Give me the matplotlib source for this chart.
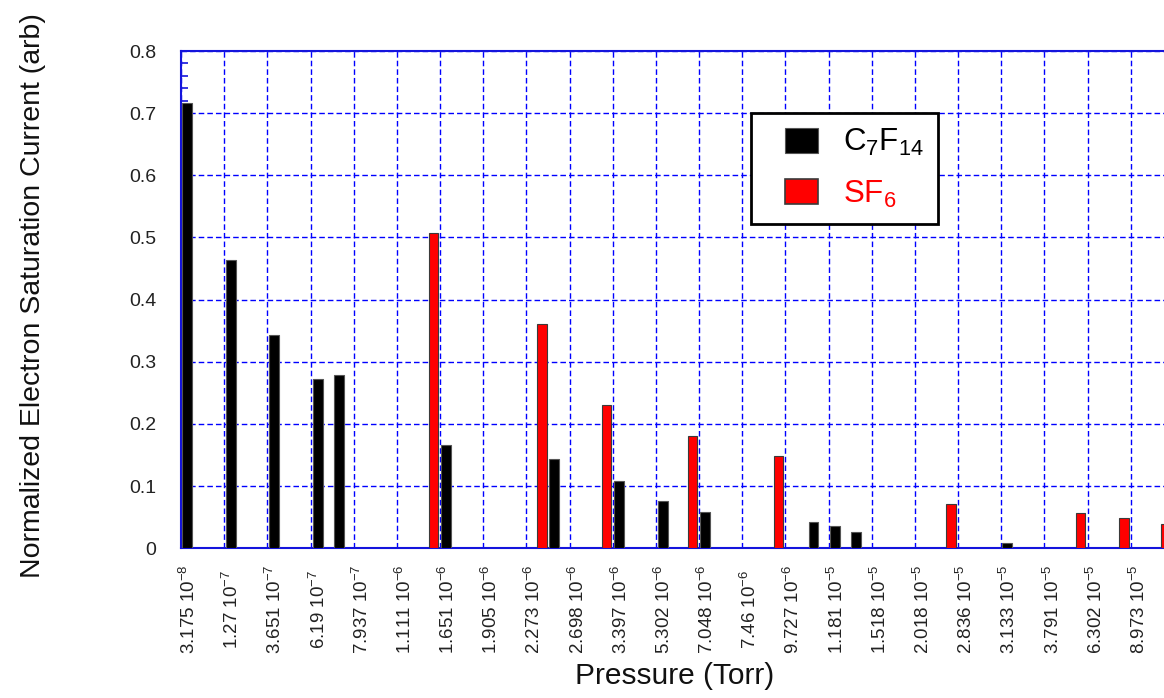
import matplotlib.pyplot as plt
import matplotlib.transforms as mtransforms
import numpy as np
from matplotlib.legend_handler import HandlerPatch
from matplotlib.patches import Rectangle
from matplotlib.ticker import MultipleLocator

plt.rcParams['font.family'] = ['Liberation Sans', 'DejaVu Sans']
plt.rcParams['mathtext.fontset'] = 'custom'
plt.rcParams['mathtext.rm'] = 'Liberation Sans'
plt.rcParams['mathtext.it'] = 'Liberation Sans:italic'
plt.rcParams['mathtext.default'] = 'regular'

# pressure ticks (Torr), one per category slot
pressure_labels = [
    '3.175 10$^{-8}$', '1.27 10$^{-7}$', '3.651 10$^{-7}$', '6.19 10$^{-7}$',
    '7.937 10$^{-7}$', '1.111 10$^{-6}$', '1.651 10$^{-6}$', '1.905 10$^{-6}$',
    '2.273 10$^{-6}$', '2.698 10$^{-6}$', '3.397 10$^{-6}$', '5.302 10$^{-6}$',
    '7.048 10$^{-6}$', '7.46 10$^{-6}$', '9.727 10$^{-6}$', '1.181 10$^{-5}$',
    '1.518 10$^{-5}$', '2.018 10$^{-5}$', '2.836 10$^{-5}$', '3.133 10$^{-5}$',
    '3.791 10$^{-5}$', '6.302 10$^{-5}$', '8.973 10$^{-5}$',
]

# C7F14 runs: position on the pressure scale and normalized current
c7f14_pos = [0.14, 1.15, 2.15, 3.17, 3.65, 6.14, 8.65, 10.14, 11.16, 12.14,
             14.65, 15.15, 15.63, 19.13]
c7f14_val = [0.716, 0.464, 0.343, 0.272, 0.279, 0.166, 0.144, 0.109, 0.076,
             0.058, 0.043, 0.036, 0.027, 0.008]

# SF6 runs
sf6_pos = [5.85, 8.36, 9.86, 11.85, 13.84, 17.84, 20.84, 21.84, 22.8]
sf6_val = [0.508, 0.361, 0.230, 0.181, 0.148, 0.072, 0.056, 0.048, 0.039]

yticks = np.arange(0, 0.81, 0.1)

blue = '#1414dc'

fig = plt.figure(figsize=(11.64, 6.98), dpi=100)
ax = fig.add_axes([181 / 1164, (698 - 548.3) / 698, 993 / 1164, 497.3 / 698])

ax.bar(sf6_pos, sf6_val, width=0.22, color='#ff0000', edgecolor='#3a3a3a',
       linewidth=0.8, zorder=3)
ax.bar(c7f14_pos, c7f14_val, width=0.23, color='black', edgecolor='#555555',
       linewidth=0.8, zorder=3)

ax.set_xlim(0, 23)
ax.set_ylim(0, 0.8)

ax.set_xticks(range(len(pressure_labels)))
ax.set_xticklabels(pressure_labels, rotation=90, fontsize=13.5, va='center', ha='center',
                   color='#222222')
ax.tick_params(axis='x', length=0, pad=44)
shift = mtransforms.ScaledTranslation(0.08, 0, fig.dpi_scale_trans)
for lbl in ax.get_xticklabels():
    lbl.set_transform(lbl.get_transform() + shift)

ax.set_yticks(yticks)
ax.set_yticklabels([f'{v:g}' for v in yticks])
ax.yaxis.set_minor_locator(MultipleLocator(0.02))
ax.tick_params(axis='y', which='both', direction='in', colors=blue,
               labelcolor='#222222', pad=18, labelsize=14, width=1.2)
ax.tick_params(axis='y', which='major', length=7)
ax.tick_params(axis='y', which='minor', length=5)

ax.set_axisbelow(True)
ax.grid(True, which='major', color='#0000ff', linestyle=(0, (4, 2.2)), linewidth=1.0)
for s in ax.spines.values():
    s.set_color(blue)
    s.set_linewidth(1.5)

ax.set_xlabel('Pressure (Torr)', fontsize=21.5, color='#111111')
ax.xaxis.set_label_coords(0.4975, -0.228)
ax.set_ylabel('Normalized Electron Saturation Current (arb)', fontsize=20.5, color='#111111')
ax.yaxis.set_label_coords(-0.136, 0.509)


def right_square(legend, orig_handle, xdescent, ydescent, width, height, fontsize):
    # square swatch pushed to the right end of the handle box
    w = 1.05 * fontsize
    return Rectangle((-xdescent + width - w, -ydescent), w, height)


h_c7 = Rectangle((0, 0), 1, 1, facecolor='black', edgecolor='#555555', linewidth=0.8)
h_sf6 = Rectangle((0, 0), 1, 1, facecolor='#ff0000', edgecolor='#3a3a3a', linewidth=1.2)
leg = ax.legend([h_c7, h_sf6], ['C$_7$F$_{14}$', 'SF$_6$'], loc='upper left',
                bbox_to_anchor=(0.574, 0.875), borderaxespad=0, fontsize=22.5,
                handlelength=1.7, handleheight=0.85, handletextpad=0.8,
                labelspacing=0.65, borderpad=0.45, fancybox=False, framealpha=1,
                edgecolor='black', handler_map={Rectangle: HandlerPatch(patch_func=right_square)})
leg.get_frame().set_linewidth(2)
leg.get_texts()[1].set_color('#ff0000')

fig.savefig('out.png', dpi=100)
